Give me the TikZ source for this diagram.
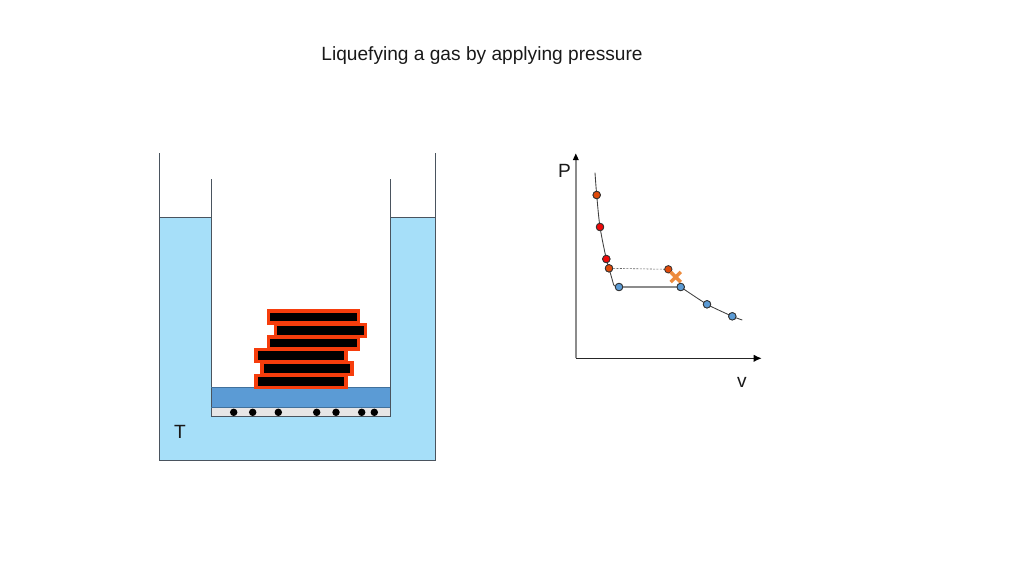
\documentclass[tikz,border=0pt]{standalone}
\usepackage{fontspec}
\setmainfont{Liberation Sans}
\usetikzlibrary{arrows.meta,shapes.misc}
\definecolor{water}{HTML}{A6DFF9}
\definecolor{piston}{HTML}{5B9BD5}
\definecolor{pistonline}{HTML}{41719C}
\definecolor{gasfill}{HTML}{E7E6E6}
\definecolor{wall}{HTML}{4A545E}
\definecolor{brickline}{HTML}{F63D0C}
\definecolor{hotdot}{HTML}{E04A0A}
\definecolor{reddot}{HTML}{F00808}
\definecolor{cross}{HTML}{ED8B3D}
\definecolor{axisgrey}{HTML}{8C8C8C}
\tikzset{
  wallline/.style={draw=wall,line width=0.75pt},
  pistonedge/.style={draw=pistonline,line width=0.7pt},
  brick/.style={draw=brickline,fill=black,line width=2.3pt,line join=miter,anchor=north west,outer sep=0pt,inner sep=0pt,minimum width=67.5pt,minimum height=9pt},
  mol/.style={circle,fill=black,inner sep=0pt,minimum size=5.6pt},
  pt/.style={circle,draw=black!80,line width=0.6pt,inner sep=0pt,minimum size=5.6pt},
  bluept/.style={pt,fill=piston},
  hotpt/.style={pt,fill=hotdot},
  redpt/.style={pt,fill=reddot},
  label/.style={inner sep=0pt,text=black!90,font=\fontsize{14.35pt}{17pt}\selectfont},
  curve/.style={draw=black!75,line width=0.65pt}
}
\begin{document}
\begin{tikzpicture}[x=0.75pt,y=-0.75pt]
\useasboundingbox (0,0) rectangle (1024,576);
% water bath
\fill[water] (159.7,217) rectangle (435.4,460);
\fill[white] (211,217) rectangle (390.3,416);
\fill[gasfill] (211,407) rectangle (390.3,416);
\fill[piston] (211,387.5) rectangle (390.3,407);
\draw[wallline] (159.7,153) -- (159.7,460.3) -- (435.4,460.3) -- (435.4,153);
\draw[wallline] (159.7,217) -- (211,217);
\draw[wallline] (390.3,217) -- (435.4,217);
\draw[wallline] (211,179) -- (211,416) -- (390.3,416) -- (390.3,179);
\draw[pistonedge] (211,387.5) -- (390.3,387.5);
\draw[pistonedge] (211,407) -- (390.3,407);
% weights
\node[brick] (b1) at (268.7,311) {};
\node[brick] (b2) at (275.4,324.2) {};
\node[brick] (b3) at (268.7,337) {};
\node[brick] (b4) at (256,349.7) {};
\node[brick] (b5) at (262,362.7) {};
\node[brick] (b6) at (256,375.4) {};
% molecules
\node[mol] (m1) at (233.7,412.3) {};
\node[mol] (m2) at (252.7,412.3) {};
\node[mol] (m3) at (278.3,412.3) {};
\node[mol] (m4) at (316.7,412.3) {};
\node[mol] (m5) at (336,412.3) {};
\node[mol] (m6) at (361.7,412.3) {};
\node[mol] (m7) at (374.3,412.3) {};
% axes
\coordinate (origin) at (575.8,358.3);
\coordinate (ytip) at (575.8,153.5);
\coordinate (xtip) at (761.7,358.3);
\draw[draw=axisgrey,line width=1.2pt] (origin) -- (575.8,158);
\fill[black] (ytip) -- (578.8,160) -- (572.8,160) -- cycle;
\draw[draw=black!85,line width=0.85pt,-{Latex[length=6pt,width=5.5pt,black]}] (origin) -- (xtip);
% points
\coordinate (start) at (595,172.7);
\coordinate (knee) at (613.7,285);
\coordinate (end) at (742.3,320);
\node[hotpt] (p1) at (596.7,195) {};
\node[redpt] (p2) at (600,227) {};
\node[redpt] (p3) at (606.3,259) {};
\node[hotpt] (p4) at (609,268.3) {};
\node[bluept] (q1) at (619,287) {};
\node[bluept] (q2) at (680.7,287) {};
\node[bluept] (q3) at (707,304.3) {};
\node[bluept] (q4) at (732.3,316.3) {};
\node[hotpt] (h) at (668.3,269.3) {};
% curve
\draw[curve] plot[smooth,tension=0.55] coordinates {(start) (p1.center) (p2.center) (p3.center) (p4.center) (knee)};
\draw[curve] (knee) to[out=-60,in=180] (q1.center);
\draw[draw=axisgrey,line width=1.2pt] (q1) -- (q2);
\draw[curve] plot[smooth,tension=0.4] coordinates {(q2.center) (q3.center) (q4.center) (end)};
\draw[draw=black!60,line width=0.45pt,dash pattern=on 1.5pt off 1pt] (p4) -- (h);
\node[cross out,draw=cross,line width=2.6pt,minimum size=5pt,inner sep=0pt] (x) at (675.7,277) {};
% points over the curve
\node[hotpt] at (p1) {};
\node[redpt] at (p2) {};
\node[redpt] at (p3) {};
\node[hotpt] at (p4) {};
\node[bluept] at (q1) {};
\node[bluept] at (q2) {};
\node[bluept] at (q3) {};
\node[bluept] at (q4) {};
% labels
\node[label] (title) at (482,55.5) {Liquefying a gas by applying pressure};
\node[label] (P) at (564.5,170.5) {P};
\node[label] (v) at (742,382) {v};
\node[label] (T) at (180,432) {T};
\end{tikzpicture}
\end{document}
